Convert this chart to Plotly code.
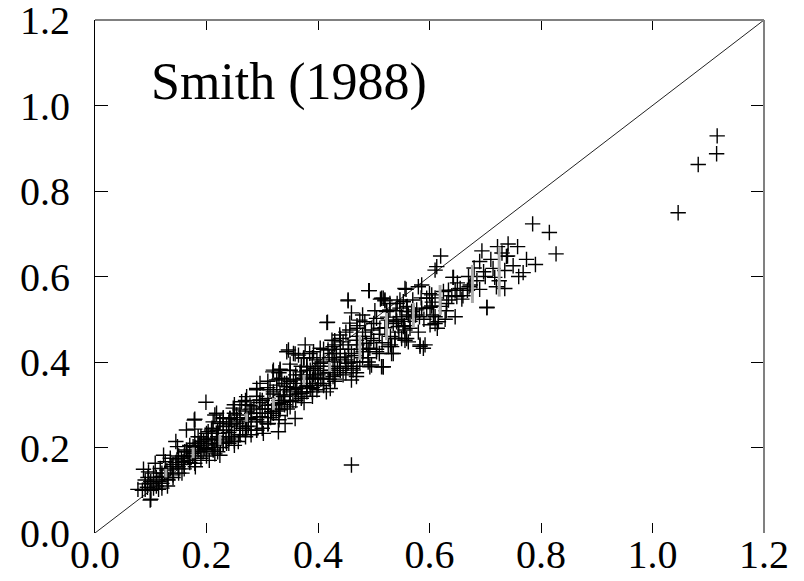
import plotly.graph_objects as go

# ---- data ----
tick_vals = [0.0, 0.2, 0.4, 0.6, 0.8, 1.0, 1.2]
tick_text = ["0.0", "0.2", "0.4", "0.6", "0.8", "1.0", "1.2"]

pts_x = [
    0.785, 0.815, 0.827, 0.722, 0.741, 0.758, 0.694, 0.740, 0.774, 0.790, 0.768, 0.714, 0.735, 0.697, 0.700,
    0.717, 0.720, 0.735, 0.690, 0.703, 0.673, 0.668, 0.620, 0.613, 0.610, 0.642, 0.586, 0.580, 0.558, 0.634,
    0.649, 0.658, 0.634, 0.631, 0.610, 0.604, 0.595, 0.646, 0.628, 0.616, 0.601, 0.614, 0.607, 0.604, 0.586,
    0.582, 0.553, 0.547, 0.559, 0.568, 0.562, 0.550, 0.541, 0.553, 0.538, 0.559, 0.562, 0.583, 0.589, 0.532,
    0.535, 0.517, 0.547, 0.529, 0.520, 0.517, 0.556, 0.523, 0.526, 0.544, 0.556, 0.565, 0.571, 0.577, 0.601,
    0.610, 0.646, 0.655, 0.671, 0.491, 0.454, 0.512, 0.520, 0.417, 0.460, 0.480, 0.484, 0.502, 0.523, 0.542,
    0.470, 0.496, 0.511, 0.457, 0.439, 0.425, 0.427, 0.445, 0.454, 0.469, 0.487, 0.493, 0.481, 0.505, 0.526,
    0.532, 0.538, 0.556, 0.493, 0.514, 0.347, 0.356, 0.374, 0.392, 0.404, 0.418, 0.433, 0.448, 0.454, 0.439,
    0.422, 0.404, 0.386, 0.368, 0.350, 0.332, 0.320, 0.335, 0.356, 0.374, 0.395, 0.409, 0.427, 0.463, 0.469,
    0.380, 0.362, 0.344, 0.326, 0.398, 0.422, 0.371, 0.350, 0.332, 0.380, 0.404, 0.427, 0.377, 0.365, 0.457,
    0.475, 0.505, 0.541, 0.559, 0.529, 0.199, 0.179, 0.164, 0.179, 0.319, 0.344, 0.359, 0.332, 0.296, 0.290,
    0.314, 0.326, 0.344, 0.359, 0.371, 0.386, 0.272, 0.263, 0.278, 0.296, 0.311, 0.329, 0.338, 0.359, 0.341,
    0.329, 0.311, 0.296, 0.281, 0.260, 0.248, 0.242, 0.254, 0.272, 0.290, 0.302, 0.218, 0.224, 0.209, 0.230,
    0.242, 0.257, 0.236, 0.218, 0.203, 0.188, 0.176, 0.164, 0.194, 0.212, 0.224, 0.380, 0.398, 0.392, 0.350,
    0.332, 0.317, 0.254, 0.275, 0.230, 0.212, 0.218, 0.200, 0.185, 0.178, 0.145, 0.148, 0.087, 0.077, 0.090,
    0.094, 0.100, 0.114, 0.090, 0.105, 0.111, 0.120, 0.129, 0.131, 0.140, 0.149, 0.158, 0.147, 0.135, 0.123,
    0.167, 0.176, 0.185, 0.161, 0.179, 0.191, 0.197, 0.209, 0.203, 0.221, 0.215, 0.230, 0.236, 0.224, 0.215,
    0.242, 0.245, 0.179, 0.138, 0.117, 0.126, 0.108, 0.096, 0.099, 0.105, 0.120, 0.156, 0.099, 0.460, 0.416,
    0.454, 0.492, 0.514, 0.703, 0.643, 0.738, 0.592, 0.583, 0.517, 0.496, 0.469, 0.460, 1.046, 1.082, 1.115,
    1.116,
    0.25, 0.26, 0.27, 0.28, 0.29, 0.30, 0.31, 0.32, 0.33, 0.34, 0.35, 0.36, 0.37, 0.38, 0.39, 0.40, 0.41,
    0.42, 0.43, 0.44, 0.26, 0.28, 0.30, 0.32, 0.34, 0.36, 0.38, 0.40, 0.42, 0.24, 0.27, 0.29, 0.31, 0.33,
    0.35, 0.37, 0.39, 0.41, 0.43, 0.45, 0.23, 0.21, 0.19, 0.17, 0.15, 0.13, 0.12, 0.14, 0.16, 0.18, 0.20,
    0.22, 0.24, 0.16, 0.18, 0.20, 0.22, 0.11, 0.10, 0.13, 0.25, 0.27, 0.29, 0.31, 0.33, 0.35, 0.37, 0.39,
    0.41, 0.43, 0.46, 0.47, 0.48, 0.49, 0.50, 0.48, 0.46, 0.44, 0.42, 0.40, 0.38, 0.36, 0.34, 0.32, 0.30,
    0.28, 0.26, 0.24,
]
pts_y = [
    0.723, 0.703, 0.653, 0.670, 0.676, 0.670, 0.660, 0.648, 0.640, 0.628, 0.609, 0.619, 0.614, 0.611, 0.600,
    0.598, 0.576, 0.572, 0.570, 0.527, 0.580, 0.568, 0.648, 0.623, 0.615, 0.598, 0.580, 0.576, 0.570, 0.568,
    0.553, 0.547, 0.545, 0.537, 0.550, 0.557, 0.549, 0.506, 0.500, 0.494, 0.487, 0.479, 0.510, 0.531, 0.526,
    0.506, 0.541, 0.545, 0.529, 0.518, 0.510, 0.506, 0.498, 0.483, 0.455, 0.455, 0.447, 0.437, 0.432, 0.436,
    0.420, 0.389, 0.526, 0.522, 0.545, 0.549, 0.572, 0.518, 0.498, 0.483, 0.475, 0.479, 0.506, 0.522, 0.528,
    0.506, 0.568, 0.572, 0.576, 0.567, 0.543, 0.547, 0.543, 0.493, 0.515, 0.510, 0.494, 0.520, 0.520, 0.537,
    0.479, 0.475, 0.479, 0.475, 0.463, 0.451, 0.436, 0.447, 0.440, 0.451, 0.444, 0.432, 0.424, 0.424, 0.436,
    0.420, 0.455, 0.451, 0.389, 0.389, 0.428, 0.420, 0.409, 0.424, 0.432, 0.428, 0.420, 0.412, 0.397, 0.389,
    0.381, 0.374, 0.381, 0.377, 0.381, 0.381, 0.381, 0.362, 0.358, 0.362, 0.362, 0.362, 0.366, 0.381, 0.366,
    0.342, 0.338, 0.342, 0.346, 0.335, 0.338, 0.319, 0.323, 0.323, 0.389, 0.397, 0.405, 0.440, 0.416, 0.491,
    0.498, 0.502, 0.494, 0.518, 0.537, 0.306, 0.266, 0.241, 0.243, 0.377, 0.424, 0.419, 0.383, 0.350, 0.338,
    0.335, 0.358, 0.350, 0.335, 0.327, 0.338, 0.319, 0.307, 0.299, 0.311, 0.299, 0.303, 0.319, 0.268, 0.256,
    0.237, 0.256, 0.272, 0.280, 0.288, 0.292, 0.268, 0.256, 0.249, 0.241, 0.233, 0.280, 0.256, 0.241, 0.241,
    0.225, 0.214, 0.210, 0.218, 0.218, 0.210, 0.202, 0.194, 0.190, 0.194, 0.182, 0.389, 0.405, 0.370, 0.307,
    0.288, 0.284, 0.276, 0.268, 0.268, 0.260, 0.233, 0.233, 0.225, 0.264, 0.214, 0.202, 0.149, 0.102, 0.102,
    0.107, 0.079, 0.102, 0.124, 0.140, 0.124, 0.132, 0.147, 0.124, 0.136, 0.155, 0.167, 0.171, 0.175, 0.182,
    0.178, 0.186, 0.194, 0.190, 0.210, 0.214, 0.198, 0.222, 0.237, 0.233, 0.206, 0.210, 0.249, 0.260, 0.276,
    0.268, 0.225, 0.163, 0.155, 0.151, 0.167, 0.163, 0.143, 0.116, 0.105, 0.116, 0.140, 0.077, 0.159, 0.492,
    0.545, 0.567, 0.549, 0.528, 0.598, 0.647, 0.440, 0.440, 0.389, 0.393, 0.375, 0.358, 0.749, 0.862, 0.887,
    0.929,
    0.24, 0.25, 0.26, 0.27, 0.28, 0.28, 0.29, 0.30, 0.31, 0.32, 0.33, 0.34, 0.35, 0.36, 0.36, 0.37, 0.38,
    0.39, 0.40, 0.41, 0.27, 0.29, 0.31, 0.33, 0.35, 0.37, 0.38, 0.39, 0.41, 0.22, 0.24, 0.26, 0.27, 0.29,
    0.31, 0.33, 0.34, 0.35, 0.37, 0.39, 0.21, 0.20, 0.19, 0.17, 0.15, 0.13, 0.14, 0.16, 0.18, 0.20, 0.22,
    0.24, 0.26, 0.15, 0.17, 0.18, 0.19, 0.11, 0.12, 0.11, 0.28, 0.30, 0.32, 0.34, 0.36, 0.38, 0.39, 0.41,
    0.43, 0.44, 0.42, 0.44, 0.46, 0.43, 0.45, 0.41, 0.40, 0.38, 0.36, 0.35, 0.33, 0.31, 0.30, 0.28, 0.26,
    0.24, 0.23, 0.21,
]

# second pass over the dense band
band_x = [
    0.085, 0.090, 0.095, 0.100, 0.105, 0.110, 0.115, 0.120, 0.125, 0.130, 0.135, 0.140, 0.145, 0.150, 0.155,
    0.160, 0.165, 0.170, 0.175, 0.180, 0.185, 0.190, 0.195, 0.200, 0.205, 0.210, 0.215,
    0.220, 0.225, 0.230, 0.235, 0.240, 0.245, 0.250, 0.255, 0.260, 0.265, 0.270, 0.275, 0.280, 0.285, 0.290,
    0.295, 0.300, 0.305, 0.310, 0.315, 0.320, 0.325, 0.330, 0.335, 0.340, 0.345, 0.350, 0.355, 0.360, 0.365,
    0.370, 0.375, 0.380, 0.385, 0.390, 0.395, 0.400, 0.405, 0.410, 0.415, 0.420, 0.425, 0.430, 0.435, 0.440,
    0.445, 0.450, 0.455, 0.460, 0.465, 0.470, 0.475, 0.480, 0.485, 0.490, 0.495, 0.500, 0.505, 0.510, 0.515,
    0.520, 0.525, 0.530, 0.535, 0.540, 0.545, 0.550, 0.555, 0.560, 0.565, 0.570, 0.575, 0.580, 0.585, 0.590,
    0.595, 0.600, 0.605, 0.610, 0.620, 0.625, 0.630, 0.640, 0.650, 0.660, 0.670, 0.680, 0.685, 0.690, 0.710,
    0.725, 0.730, 0.750, 0.760,
    0.430, 0.440, 0.450, 0.470, 0.375, 0.385, 0.350, 0.330, 0.310, 0.290, 0.270, 0.250, 0.230, 0.210, 0.190,
    0.170, 0.150,
    0.250, 0.270, 0.290, 0.310, 0.330, 0.350, 0.370, 0.390, 0.410, 0.430, 0.450, 0.470, 0.490, 0.510, 0.530,
    0.550,
]
band_y = [
    0.100, 0.115, 0.130, 0.100, 0.115, 0.130, 0.120, 0.105, 0.140, 0.125, 0.150, 0.130, 0.165, 0.140, 0.175,
    0.160, 0.190, 0.165, 0.180, 0.155, 0.205, 0.175, 0.215, 0.195, 0.170, 0.210, 0.185,
    0.225, 0.200, 0.250, 0.215, 0.235, 0.255, 0.215, 0.265, 0.230, 0.245, 0.285, 0.250, 0.230, 0.295, 0.265,
    0.305, 0.245, 0.290, 0.315, 0.270, 0.325, 0.285, 0.265, 0.305, 0.335, 0.290, 0.355, 0.310, 0.360, 0.325,
    0.370, 0.305, 0.345, 0.365, 0.320, 0.385, 0.345, 0.360, 0.400, 0.330, 0.375, 0.420, 0.355, 0.385, 0.430,
    0.370, 0.405, 0.430, 0.385, 0.415, 0.460, 0.400, 0.430, 0.470, 0.410, 0.455, 0.490, 0.430, 0.465, 0.445,
    0.480, 0.505, 0.460, 0.490, 0.520, 0.470, 0.500, 0.485, 0.530, 0.495, 0.545, 0.510, 0.470, 0.550, 0.500,
    0.525, 0.560, 0.540, 0.490, 0.530, 0.565, 0.520, 0.555, 0.585, 0.555, 0.600, 0.620, 0.590, 0.635, 0.640,
    0.590, 0.655, 0.625, 0.600,
    0.450, 0.455, 0.470, 0.485, 0.410, 0.420, 0.395, 0.375, 0.355, 0.335, 0.310, 0.300, 0.270, 0.245, 0.225,
    0.205, 0.180,
    0.205, 0.225, 0.240, 0.255, 0.275, 0.295, 0.315, 0.330, 0.345, 0.360, 0.375, 0.390, 0.400, 0.420, 0.440,
    0.455,
]

bar_x = [0.127, 0.176, 0.224, 0.272, 0.320, 0.375, 0.421, 0.475, 0.523, 0.571, 0.619, 0.677, 0.725]
bar_low = [0.130, 0.175, 0.206, 0.260, 0.288, 0.346, 0.377, 0.405, 0.451, 0.480, 0.510, 0.538, 0.553]
bar_high = [0.150, 0.200, 0.230, 0.280, 0.316, 0.370, 0.400, 0.463, 0.515, 0.538, 0.580, 0.627, 0.670]

diag = [0.0, 1.2]
label_text = "Smith (1988)"

SERIF = "Liberation Serif, Times New Roman, serif"

fig = go.Figure()

fig.add_trace(go.Scatter(
    x=diag, y=diag, mode="lines",
    line=dict(color="#222222", width=1), hoverinfo="skip", showlegend=False,
))

fig.add_trace(go.Scatter(
    x=pts_x + band_x, y=pts_y + band_y, mode="markers",
    marker=dict(symbol="cross-thin", size=11, line=dict(color="black", width=1.4)),
    showlegend=False,
))

fig.add_trace(go.Scatter(
    x=bar_x, y=bar_low, mode="markers",
    marker=dict(size=0.1, color="rgba(0,0,0,0)"),
    error_y=dict(type="data", symmetric=False,
                 array=[h - l for h, l in zip(bar_high, bar_low)],
                 arrayminus=[0] * len(bar_x),
                 color="#aaaaaa", thickness=3, width=0),
    showlegend=False, hoverinfo="skip",
))

fig.add_annotation(
    x=0.097, y=1.055, xref="x", yref="y", text=label_text, showarrow=False,
    xanchor="left", yanchor="middle", font=dict(family=SERIF, size=52, color="black"),
)

# top and right gray borders
fig.add_shape(type="line", xref="paper", yref="paper", x0=0, x1=1, y0=1, y1=1,
              line=dict(color="#808080", width=2))
fig.add_shape(type="line", xref="paper", yref="paper", x0=1, x1=1, y0=0, y1=1,
              line=dict(color="#808080", width=2))

fig.update_xaxes(
    range=[0, 1.2], tickvals=tick_vals, ticktext=tick_text, automargin=False,
    showgrid=False, zeroline=False, showline=False,
    ticks="inside", ticklen=10, tickcolor="black", tickwidth=1, mirror="ticks",
    tickfont=dict(family=SERIF, size=40, color="black"), ticklabelstandoff=-6,
    ticklabeloverflow="allow",
)
fig.update_yaxes(
    range=[0, 1.2], tickvals=tick_vals, ticktext=tick_text, automargin=False,
    showgrid=False, zeroline=False, showline=True, linecolor="black", linewidth=1,
    ticks="inside", ticklen=13, tickcolor="black", tickwidth=1, mirror="ticks",
    tickfont=dict(family=SERIF, size=40, color="black"), ticklabelstandoff=16,
    ticklabeloverflow="allow",
)

# the page adds an 8 px body margin, so the figure is sized to the remaining window
fig.update_layout(
    width=796, height=573,
    margin=dict(l=87, r=40, t=12, b=48),
    paper_bgcolor="white", plot_bgcolor="white",
    showlegend=False,
)

fig.write_html("out.html")
